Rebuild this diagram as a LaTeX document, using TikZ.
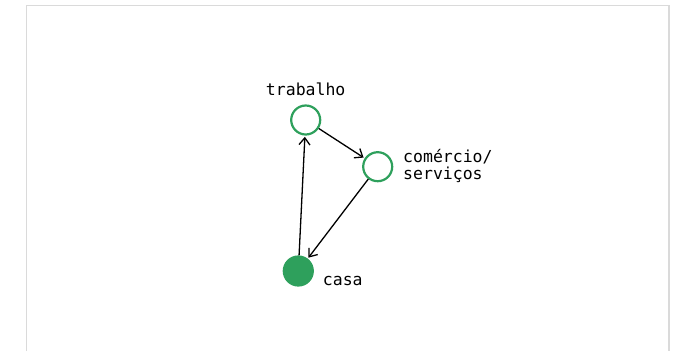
\documentclass[tikz,border=0pt]{standalone}
\usepackage{fontspec}
\setmonofont{DejaVu Sans Mono}
\usetikzlibrary{arrows.meta}
\definecolor{placegreen}{HTML}{2EA05C}
\definecolor{framegray}{HTML}{DADADA}
\tikzset{
  place/.style={circle, draw=placegreen, line width=2.2pt, minimum size=29pt, inner sep=0pt},
  home/.style={place, fill=placegreen},
  placelabel/.style={inner sep=0pt, font=\ttfamily\fontsize{16.5}{17}\selectfont},
  trip/.style={-{Straight Barb[length=7pt,width=11pt,line width=1.3pt]}, line width=1.3pt, shorten >=1.2pt}
}
\begin{document}
\begin{tikzpicture}[x=1pt,y=-1pt]
  \useasboundingbox (0,0) rectangle (680,351);
  % open frame around the figure
  \draw[framegray, line width=1.5pt] (26.5,351) -- (26.5,5.5) -- (669,5.5) -- (669,351);

  % places
  \node[place] (trabalho) at (305.7,120) {};
  \node[place] (comercio) at (377.7,166.7) {};
  \node[home]  (casa)     at (298.3,271) {};

  % labels
  \node[placelabel, anchor=base] (ltrab) at (305.7,95) {trabalho};
  \node[placelabel, anchor=west, align=left] (lcom) at (403,166) {comércio/\\serviços};
  \node[placelabel, anchor=base west] (lcasa) at (322.7,285) {casa};

  % daily trip chain
  \draw[trip] (trabalho) -- (comercio);
  \draw[trip] (comercio) -- (casa);
  \draw[trip] (casa) -- (trabalho);
\end{tikzpicture}
\end{document}
